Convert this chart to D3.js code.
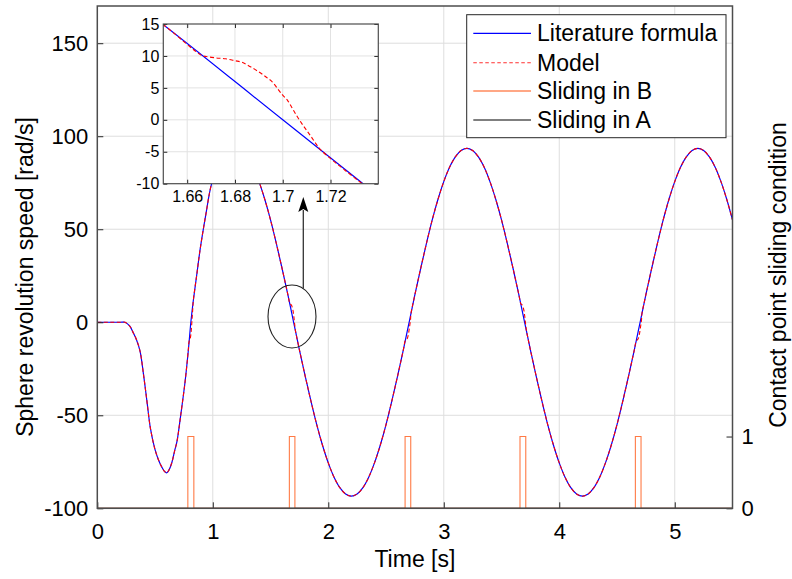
<!DOCTYPE html>
<html><head><meta charset="utf-8">
<script src="https://cdn.jsdelivr.net/npm/d3@7"></script>
<style>
body{margin:0;background:#fff}
svg{display:block}
text{font-family:Arial,"Liberation Sans",sans-serif;fill:#000}
</style>
</head><body>
<svg id="c" width="792" height="579"></svg>
<script>
// ---------------- DATA ----------------
// Literature formula: sphere revolution speed [rad/s] vs time [s]
const timeLit = [0,0.05,0.10,0.15,0.20,0.24,0.28,0.31,0.34,0.37,0.40,0.43,0.46,0.50,0.53,0.56,0.58,0.60,0.62,0.645,0.67,0.69,0.72,0.76,0.79,0.81,0.83,0.86,0.89,0.94,0.99,1.05,1.10,1.15,1.20,
1.25,1.30,1.35,1.40,1.45,1.50,1.55,1.60,1.65,1.70,1.75,1.80,1.85,1.90,1.95,2.00,2.05,2.10,2.15,2.20,
2.25,2.30,2.35,2.40,2.45,2.50,2.55,2.60,2.65,2.70,2.75,2.80,2.85,2.90,2.95,3.00,3.05,3.10,3.15,3.20,
3.25,3.30,3.35,3.40,3.45,3.50,3.55,3.60,3.65,3.70,3.75,3.80,3.85,3.90,3.95,4.00,4.05,4.10,4.15,4.20,
4.25,4.30,4.35,4.40,4.45,4.50,4.55,4.60,4.65,4.70,4.75,4.80,4.85,4.90,4.95,5.00,5.05,5.10,5.15,5.20,
5.25,5.30,5.35,5.40,5.45,5.50];
const speedLit = [0,0,0,0,0,0,-2,-5.5,-9.5,-15.5,-28,-42.5,-57,-68.5,-74,-78,-80,-81,-79.5,-75.5,-69,-64,-51,-32,-14,0,11,25,39,58,74.5,84,89.5,92.8,93.8,
92.3,88.9,83.3,75.6,66.1,55.0,42.4,28.9,14.9,0,-14.8,-28.9,-42.4,-55.0,-66.1,-75.6,-83.3,-88.9,-92.3,-93.5,
-92.3,-88.9,-83.3,-75.6,-66.1,-55.0,-42.4,-28.9,-14.8,0,14.8,28.9,42.4,55.0,66.1,75.6,83.3,88.9,92.3,93.5,
92.3,88.9,83.3,75.6,66.1,55.0,42.4,28.9,14.8,0,-14.8,-28.9,-42.4,-55.0,-66.1,-75.6,-83.3,-88.9,-92.3,-93.5,
-92.3,-88.9,-83.3,-75.6,-66.1,-55.0,-42.4,-28.9,-14.8,0,14.8,28.9,42.4,55.0,66.1,75.6,83.3,88.9,92.3,93.5,
92.3,88.9,83.3,75.6,66.1,55.0];

// Model: equals the literature curve except near the zero crossings
const modelPatch1Time  = [0.787,0.792,0.797,0.802,0.807,0.812,0.817,0.822,0.827,0.832];
const modelPatch1Speed = [-15.5,-11.5,-9.8,-9.2,-8.0,-5.5,-1.5,3.0,7.5,12];
const modelPatch2Time  = [1.666,1.668,1.672,1.676,1.680,1.683,1.6865,1.690,1.693,1.6956,1.698,1.700,1.702,1.704,1.706,1.708,1.710,1.712,1.714,1.716];
const modelPatch2Speed = [10.1,9.9,9.7,9.55,9.25,9.0,8.3,7.5,6.7,5.95,4.8,3.85,3.05,1.8,0.55,-0.6,-1.65,-2.7,-3.8,-4.75];
const modelPatch3Time  = [2.666,2.672,2.676,2.680,2.684,2.688,2.692,2.696,2.700,2.704,2.708,2.712,2.716];
const modelPatch3Speed = [-10.0,-9.7,-9.5,-9.2,-8.8,-8.0,-6.9,-5.7,-4.0,-2.4,-0.6,1.3,4.6];
const modelPatch4Time  = [3.666,3.668,3.672,3.676,3.680,3.683,3.6865,3.690,3.693,3.6956,3.698,3.700,3.702,3.704,3.706,3.708,3.710,3.712,3.714,3.716];
const modelPatch4Speed = [10.0,9.8,9.7,9.5,9.2,8.9,8.2,7.4,6.6,5.8,4.7,3.7,2.9,1.7,0.4,-0.7,-1.7,-2.8,-3.8,-4.7];
const modelPatch5Time  = [4.666,4.672,4.676,4.680,4.684,4.688,4.692,4.696,4.700,4.704,4.708,4.712,4.716];
const modelPatch5Speed = [-10.0,-9.7,-9.5,-9.2,-8.8,-8.0,-6.9,-5.7,-4.0,-2.4,-0.6,1.3,4.6];

// Sliding condition (right axis)
const slideBStart = [0.784,1.663,2.665,3.660,4.659];
const slideBEnd   = [0.836,1.711,2.714,3.710,4.708];
const slideATime  = [0,5.5];
const slideAState = [0,0];

// Ticks / labels
const xTicks = [0,1,2,3,4,5];
const yTicks = [-100,-50,0,50,100,150];
const y2Ticks = [0,1];
const insetXTicks = [1.66,1.68,1.70,1.72];
const insetYTicks = [-10,-5,0,5,10,15];
const legendLabels = ["Literature formula","Model","Sliding in B","Sliding in A"];
const xLabel = "Time [s]";
const yLabel = "Sphere revolution speed [rad/s]";
const y2Label = "Contact point sliding condition";

// ---------------- BUILD SERIES ----------------
const lit = timeLit.map((t,i)=>[t,speedLit[i]]);
const patches = [[modelPatch1Time,modelPatch1Speed],[modelPatch2Time,modelPatch2Speed],[modelPatch3Time,modelPatch3Speed],[modelPatch4Time,modelPatch4Speed],[modelPatch5Time,modelPatch5Speed]];
const windows = patches.map(p=>[p[0][0],p[0][p[0].length-1]]);
let model = lit.filter(d=>!windows.some(w=>d[0]>=w[0]&&d[0]<=w[1]));
patches.forEach(p=>p[0].forEach((t,i)=>model.push([t,p[1][i]])));
model.sort((a,b)=>a[0]-b[0]);

const slideB = [[0,0]];
slideBStart.forEach((s,i)=>{ slideB.push([s,0],[s,1],[slideBEnd[i],1],[slideBEnd[i],0]); });
slideB.push([5.5,0]);
const slideA = slideATime.map((t,i)=>[t,slideAState[i]]);

// ---------------- DRAW ----------------
const svg = d3.select("#c");
const P = {l:97.3, r:732.5, t:6, b:508.3};
const x = d3.scaleLinear().domain([0,5.5]).range([P.l,P.r]);
const y = d3.scaleLinear().domain([-100,170]).range([P.b,P.t]);
const y2 = d3.scaleLinear().domain([0,7]).range([P.b,P.t]);

svg.append("rect").attr("width",792).attr("height",579).attr("fill","#fff");

// grid
const grid = svg.append("g").attr("stroke","#dedede").attr("stroke-width",1);
xTicks.filter(v=>v>0).forEach(v=>grid.append("line").attr("x1",x(v)).attr("x2",x(v)).attr("y1",P.t).attr("y2",P.b));
yTicks.filter(v=>v>-100).forEach(v=>grid.append("line").attr("x1",P.l).attr("x2",P.r).attr("y1",y(v)).attr("y2",y(v)));

svg.append("clipPath").attr("id","clipMain").append("rect").attr("x",P.l).attr("y",P.t).attr("width",P.r-P.l).attr("height",P.b-P.t);
const plot = svg.append("g").attr("clip-path","url(#clipMain)");
const line = d3.line().x(d=>x(d[0])).y(d=>y(d[1])).curve(d3.curveCatmullRom.alpha(0.5));
const line2 = d3.line().x(d=>x(d[0])).y(d=>y2(d[1]));

plot.append("path").datum(slideB).attr("d",line2).attr("fill","none").attr("stroke","#ff7a45").attr("stroke-width",1.1);
plot.append("path").datum(slideA).attr("d",line2).attr("fill","none").attr("stroke","#000").attr("stroke-width",1);
plot.append("path").datum(lit).attr("d",line).attr("fill","none").attr("stroke","#0000ff").attr("stroke-width",1.2);
plot.append("path").datum(model).attr("d",line).attr("fill","none").attr("stroke","#ff0000").attr("stroke-width",1.1).attr("stroke-dasharray","4,2.5");

// axes
function styleAxis(g,fs){
  g.select(".domain").remove();
  g.selectAll(".tick line").attr("stroke","#262626").attr("stroke-width",1);
  g.selectAll(".tick text").attr("font-size",fs).attr("fill","#000").style("font-family","Arial, 'Liberation Sans', sans-serif");
}
const fmt = d=>String(d);
svg.append("g").attr("transform",`translate(0,${P.b})`)
  .call(d3.axisBottom(x).tickValues(xTicks).tickFormat(fmt).tickSizeInner(-6).tickSizeOuter(0).tickPadding(15))
  .call(g=>styleAxis(g,22));
svg.append("g").attr("transform",`translate(${P.l},0)`)
  .call(d3.axisLeft(y).tickValues(yTicks).tickFormat(fmt).tickSizeInner(-6).tickSizeOuter(0).tickPadding(9))
  .call(g=>styleAxis(g,22));
svg.append("g").attr("transform",`translate(${P.r},0)`)
  .call(d3.axisRight(y2).tickValues(y2Ticks).tickFormat(fmt).tickSizeInner(-6).tickSizeOuter(0).tickPadding(9))
  .call(g=>styleAxis(g,22));

// box
svg.append("rect").attr("x",P.l).attr("y",P.t).attr("width",P.r-P.l).attr("height",P.b-P.t)
  .attr("fill","none").attr("stroke","#4d4d4d").attr("stroke-width",1.5);

// axis titles
svg.append("text").attr("x",(P.l+P.r)/2).attr("y",567).attr("text-anchor","middle").attr("font-size",23).text(xLabel);
svg.append("text").attr("transform","translate(33,277) rotate(-90)").attr("text-anchor","middle").attr("font-size",23).text(yLabel);
svg.append("text").attr("transform","translate(786,275) rotate(-90)").attr("text-anchor","middle").attr("font-size",23).text(y2Label);

// annotation ellipse + arrow
svg.append("ellipse").attr("cx",292).attr("cy",316.5).attr("rx",24).attr("ry",31.5).attr("fill","none").attr("stroke","#222").attr("stroke-width",1.1);
svg.append("line").attr("x1",303.3).attr("x2",303.3).attr("y1",288.5).attr("y2",210).attr("stroke","#333").attr("stroke-width",1.3);
svg.append("path").attr("d","M303.3,197 L298.3,212 L303.3,209 L308.3,212 Z").attr("fill","#000");

// ---------------- INSET ----------------
const I = {l:163.3, r:378.3, t:24, b:183.7};
const ix = d3.scaleLinear().domain([1.65,1.74]).range([I.l,I.r]);
const iy = d3.scaleLinear().domain([-10,15]).range([I.b,I.t]);
svg.append("rect").attr("x",I.l).attr("y",I.t).attr("width",I.r-I.l).attr("height",I.b-I.t).attr("fill","#fff");
const ig = svg.append("g").attr("stroke","#e2e2e2").attr("stroke-width",1);
insetXTicks.forEach(v=>ig.append("line").attr("x1",ix(v)).attr("x2",ix(v)).attr("y1",I.t).attr("y2",I.b));
insetYTicks.filter(v=>v>-10&&v<15).forEach(v=>ig.append("line").attr("x1",I.l).attr("x2",I.r).attr("y1",iy(v)).attr("y2",iy(v)));
svg.append("clipPath").attr("id","clipInset").append("rect").attr("x",I.l).attr("y",I.t).attr("width",I.r-I.l).attr("height",I.b-I.t);
const ip = svg.append("g").attr("clip-path","url(#clipInset)");
const iline = d3.line().x(d=>ix(d[0])).y(d=>iy(d[1])).curve(d3.curveCatmullRom.alpha(0.5));
ip.append("path").datum(lit).attr("d",iline).attr("fill","none").attr("stroke","#0000ff").attr("stroke-width",1.2);
ip.append("path").datum(model).attr("d",iline).attr("fill","none").attr("stroke","#ff0000").attr("stroke-width",1.1).attr("stroke-dasharray","4,2.5");
const ifmt = d=>String(+d.toFixed(2));
svg.append("g").attr("transform",`translate(0,${I.b})`)
  .call(d3.axisBottom(ix).tickValues(insetXTicks).tickFormat(ifmt).tickSizeInner(-4).tickSizeOuter(0).tickPadding(7))
  .call(g=>styleAxis(g,16));
svg.append("g").attr("transform",`translate(0,${I.t})`)
  .call(d3.axisTop(ix).tickValues(insetXTicks).tickFormat("").tickSizeInner(-4).tickSizeOuter(0))
  .call(g=>styleAxis(g,16));
svg.append("g").attr("transform",`translate(${I.l},0)`)
  .call(d3.axisLeft(iy).tickValues(insetYTicks).tickFormat(ifmt).tickSizeInner(-4).tickSizeOuter(0).tickPadding(4))
  .call(g=>styleAxis(g,16));
svg.append("g").attr("transform",`translate(${I.r},0)`)
  .call(d3.axisRight(iy).tickValues(insetYTicks).tickFormat("").tickSizeInner(-4).tickSizeOuter(0))
  .call(g=>styleAxis(g,16));
svg.append("rect").attr("x",I.l).attr("y",I.t).attr("width",I.r-I.l).attr("height",I.b-I.t)
  .attr("fill","none").attr("stroke","#4d4d4d").attr("stroke-width",1.2);

// ---------------- LEGEND ----------------
const L = {x:466.7, y:14.7, w:259.3, h:123};
const lg = svg.append("g");
lg.append("rect").attr("x",L.x).attr("y",L.y).attr("width",L.w).attr("height",L.h).attr("fill","#fff").attr("stroke","#262626").attr("stroke-width",1);
const lStyles = [
  {c:"#0000ff",d:null,w:1.2},
  {c:"#ff3030",d:"3.5,2.5",w:1.1},
  {c:"#ff8a5c",d:null,w:1.3},
  {c:"#000",d:null,w:1.2}
];
const rowY = [33.3,62.7,91,120];
legendLabels.forEach((lab,i)=>{
  const s = lStyles[i];
  lg.append("line").attr("x1",473.3).attr("x2",531).attr("y1",rowY[i]).attr("y2",rowY[i])
    .attr("stroke",s.c).attr("stroke-width",s.w).attr("stroke-dasharray",s.d);
  lg.append("text").attr("x",537).attr("y",rowY[i]+8).attr("font-size",23).text(lab);
});
</script>
</body></html>
